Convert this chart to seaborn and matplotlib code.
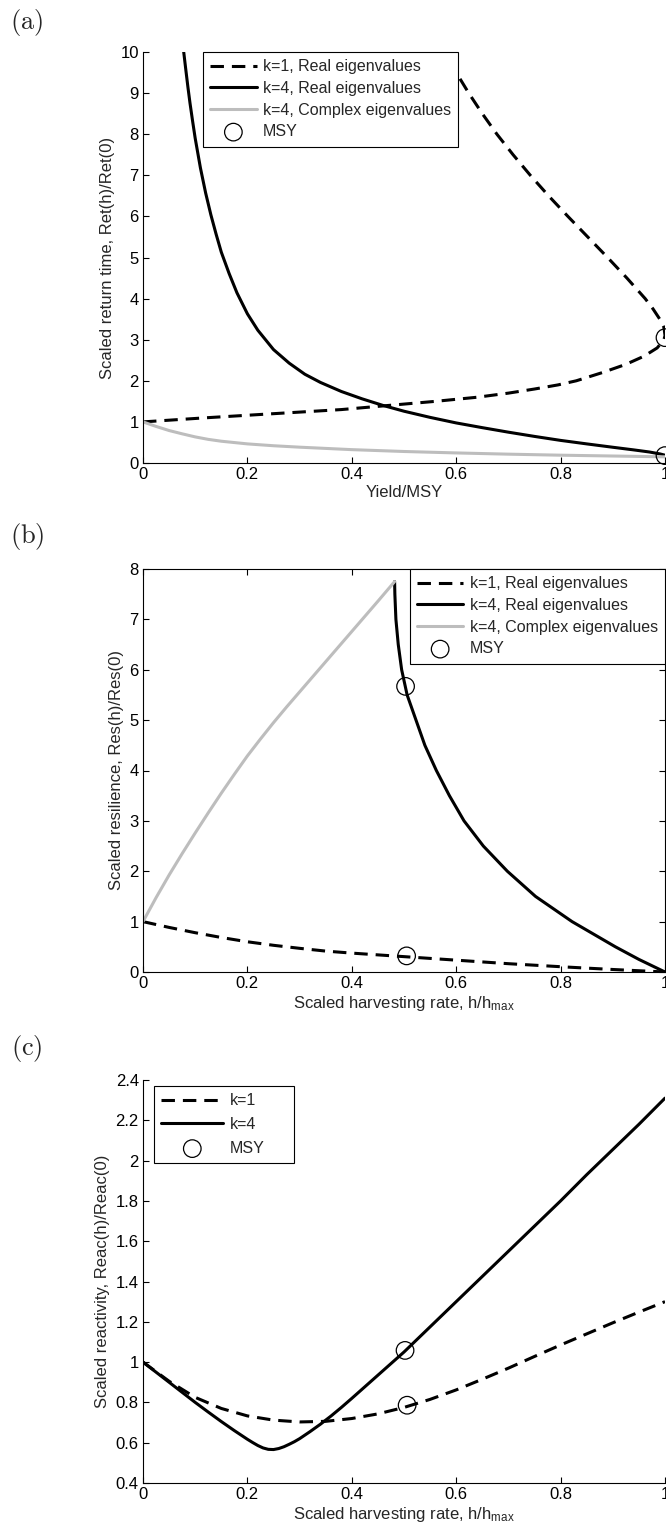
import numpy as np
import pandas as pd
import matplotlib
matplotlib.use("Agg")
import matplotlib.pyplot as plt
from matplotlib.ticker import FuncFormatter, MultipleLocator
import seaborn as sns

# ---------------- data ----------------
# Panel (a): scaled return time vs Yield/MSY
a_k1_y = [1.0, 1.1, 1.2, 1.3, 1.4, 1.5, 1.6, 1.7, 1.8, 1.9, 2.0, 2.2, 2.4, 2.6, 2.8, 3.0, 3.1,
          3.3, 3.5, 3.75, 4.0, 4.5, 5.0, 5.5, 6.0, 6.5, 7.0, 7.5, 8.0, 8.5, 9.0, 9.5, 10.0]
a_k1_x = [0.0, 0.12, 0.25, 0.38, 0.47, 0.56, 0.64, 0.70, 0.75, 0.795, 0.83, 0.88, 0.925, 0.96,
          0.985, 0.998, 1.0, 0.998, 0.99, 0.977, 0.962, 0.927, 0.89, 0.852, 0.814, 0.777, 0.742,
          0.709, 0.678, 0.65, 0.624, 0.60, 0.577]
a_k4r_x = [0.078, 0.082, 0.086, 0.09, 0.095, 0.10, 0.11, 0.12, 0.13, 0.14, 0.15, 0.165, 0.18,
           0.2, 0.22, 0.25, 0.28, 0.31, 0.34, 0.38, 0.42, 0.46, 0.5, 0.55, 0.6, 0.65, 0.7,
           0.75, 0.8, 0.85, 0.9, 0.94, 0.97, 0.99, 1.0]
a_k4r_y = [10.0, 9.57, 9.15, 8.76, 8.32, 7.9, 7.18, 6.57, 6.04, 5.57, 5.13, 4.61, 4.14,
           3.63, 3.23, 2.76, 2.43, 2.16, 1.96, 1.74, 1.56, 1.40, 1.26, 1.11, 0.975, 0.86, 0.75,
           0.647, 0.55, 0.465, 0.383, 0.319, 0.268, 0.222, 0.19]
a_k4c_x = [0.0, 0.025, 0.05, 0.075, 0.1, 0.125, 0.15, 0.2, 0.25, 0.3, 0.35, 0.4, 0.5, 0.6,
           0.7, 0.8, 0.9, 1.0]
a_k4c_y = [1.0, 0.89, 0.79, 0.71, 0.635, 0.575, 0.53, 0.465, 0.42, 0.385, 0.355, 0.325, 0.28,
           0.245, 0.215, 0.19, 0.17, 0.15]
a_msy_x = [1.0, 1.0]
a_msy_y = [3.05, 0.18]

# Panel (b): scaled resilience vs scaled harvesting rate
b_k1_x = [0.0, 0.05, 0.1, 0.15, 0.2, 0.25, 0.3, 0.35, 0.4, 0.45, 0.5, 0.55, 0.6, 0.65, 0.7,
          0.75, 0.8, 0.85, 0.9, 0.95, 1.0]
b_k1_y = [1.0, 0.885, 0.78, 0.685, 0.6, 0.53, 0.47, 0.415, 0.375, 0.34, 0.305, 0.27, 0.235,
          0.2, 0.165, 0.135, 0.105, 0.077, 0.05, 0.025, 0.0]
b_k4r_y = [7.75, 7.5, 7.0, 6.5, 6.0, 5.5, 5.0, 4.5, 4.0, 3.5, 3.0, 2.5, 2.0, 1.5, 1.0, 0.5,
           0.25, 0.0]
b_k4r_x = [0.482, 0.4825, 0.4845, 0.489, 0.4955, 0.506, 0.523, 0.54, 0.562, 0.587, 0.615,
           0.652, 0.698, 0.752, 0.822, 0.905, 0.95, 1.0]
b_k4c_x = [0.0, 0.025, 0.05, 0.075, 0.1, 0.125, 0.15, 0.175, 0.2, 0.225, 0.25, 0.275, 0.3,
           0.325, 0.35, 0.375, 0.4, 0.425, 0.45, 0.482]
b_k4c_y = [1.0, 1.475, 1.925, 2.35, 2.76, 3.16, 3.55, 3.925, 4.29, 4.625, 4.95, 5.26, 5.56,
           5.86, 6.16, 6.46, 6.76, 7.06, 7.36, 7.75]
b_msy_x = [0.503, 0.505]
b_msy_y = [5.67, 0.32]

# Panel (c): scaled reactivity vs scaled harvesting rate
c_k1_x = [0.0, 0.05, 0.1, 0.15, 0.2, 0.25, 0.3, 0.35, 0.4, 0.45, 0.5, 0.55, 0.6, 0.65, 0.7,
          0.75, 0.8, 0.85, 0.9, 0.95, 1.0]
c_k1_y = [1.0, 0.905, 0.825, 0.77, 0.733, 0.712, 0.703, 0.706, 0.72, 0.743, 0.775, 0.815,
          0.862, 0.915, 0.97, 1.028, 1.085, 1.14, 1.195, 1.248, 1.30]
c_k4_x = [0.0, 0.025, 0.05, 0.075, 0.1, 0.125, 0.15, 0.175, 0.2, 0.21, 0.22, 0.23, 0.24, 0.25,
          0.26, 0.27, 0.28, 0.29, 0.3, 0.32, 0.34, 0.36, 0.38, 0.4, 0.45, 0.5, 0.55, 0.6,
          0.65, 0.7, 0.75, 0.8, 0.85, 0.9, 0.95, 1.0]
c_k4_y = [1.0, 0.95, 0.9, 0.85, 0.8, 0.752, 0.705, 0.66, 0.617, 0.601, 0.586, 0.574, 0.567,
          0.566, 0.571, 0.58, 0.592, 0.605, 0.62, 0.655, 0.692, 0.732, 0.775, 0.82, 0.935,
          1.05, 1.175, 1.30, 1.425, 1.55, 1.675, 1.80, 1.93, 2.055, 2.18, 2.31]
c_msy_x = [0.502, 0.506]
c_msy_y = [1.058, 0.786]

panel_labels = ["(a)", "(b)", "(c)"]

# ---------------- style ----------------
sns.set_style("white")
plt.rcParams["font.family"] = ["Liberation Sans", "DejaVu Sans"]
plt.rcParams["mathtext.default"] = "regular"
plt.rcParams["font.size"] = 12

W, H = 666, 1532
fig = plt.figure(figsize=(W / 100, H / 100), dpi=100)
fig.patch.set_facecolor("white")


def add_axes_px(left, right, top, bottom):
    return fig.add_axes([left / W, 1 - bottom / H, (right - left) / W, (bottom - top) / H])


ax_a = add_axes_px(143, 665, 52, 463)
ax_b = add_axes_px(143, 665, 569, 972)
ax_c = add_axes_px(143, 665, 1080, 1483)

GRAY = "#bdbdbd"
LW = 2.2
DASH = (0, (4.4, 2.6))
FS = 12
fmt = FuncFormatter(lambda v, p: f"{v:g}")


def draw_line(ax, x, y, label, color="black", ls="-"):
    df = pd.DataFrame({"x": x, "y": y})
    sns.lineplot(data=df, x="x", y="y", ax=ax, sort=False, estimator=None,
                 color=color, linewidth=LW, linestyle=ls, label=label)


def draw_msy(ax, x, y):
    df = pd.DataFrame({"x": x, "y": y})
    sns.scatterplot(data=df, x="x", y="y", ax=ax, marker="o", s=160,
                    facecolor="none", edgecolor="black", linewidth=0.9,
                    label="MSY", zorder=5, clip_on=False)


def style_axes(ax, box):
    for side in ["left", "bottom", "top", "right"]:
        ax.spines[side].set_color("black")
        ax.spines[side].set_linewidth(0.8)
    ax.spines["top"].set_visible(box)
    ax.spines["right"].set_visible(box)
    ax.tick_params(direction="in", length=4, width=0.8, colors="black",
                   labelsize=FS, top=box, right=box, left=True, bottom=True, pad=3)
    ax.xaxis.set_major_formatter(fmt)
    ax.yaxis.set_major_formatter(fmt)
    ax.set_xlim(0, 1)
    ax.xaxis.set_major_locator(MultipleLocator(0.2))


# Panel (a)
draw_line(ax_a, a_k1_x, a_k1_y, "k=1, Real eigenvalues", ls=DASH)
draw_line(ax_a, a_k4r_x, a_k4r_y, "k=4, Real eigenvalues")
draw_line(ax_a, a_k4c_x, a_k4c_y, "k=4, Complex eigenvalues", color=GRAY)
draw_msy(ax_a, a_msy_x, a_msy_y)
ax_a.set_ylim(0, 10)
ax_a.yaxis.set_major_locator(MultipleLocator(1))
style_axes(ax_a, box=False)
ax_a.set_xlabel("Yield/MSY", fontsize=FS, labelpad=2)
ax_a.set_ylabel("Scaled return time, Ret(h)/Ret(0)", fontsize=FS)

# Panel (b)
draw_line(ax_b, b_k1_x, b_k1_y, "k=1, Real eigenvalues", ls=DASH)
draw_line(ax_b, b_k4r_x, b_k4r_y, "k=4, Real eigenvalues")
draw_line(ax_b, b_k4c_x, b_k4c_y, "k=4, Complex eigenvalues", color=GRAY)
draw_msy(ax_b, b_msy_x, b_msy_y)
ax_b.set_ylim(0, 8)
ax_b.yaxis.set_major_locator(MultipleLocator(1))
style_axes(ax_b, box=True)
ax_b.set_xlabel("Scaled harvesting rate, h/h$_{max}$", fontsize=FS, labelpad=2)
ax_b.set_ylabel("Scaled resilience, Res(h)/Res(0)", fontsize=FS)

# Panel (c)
draw_line(ax_c, c_k1_x, c_k1_y, "k=1", ls=DASH)
draw_line(ax_c, c_k4_x, c_k4_y, "k=4")
draw_msy(ax_c, c_msy_x, c_msy_y)
ax_c.set_ylim(0.4, 2.4)
ax_c.yaxis.set_major_locator(MultipleLocator(0.2))
style_axes(ax_c, box=False)
ax_c.set_xlabel("Scaled harvesting rate, h/h$_{max}$", fontsize=FS, labelpad=2)
ax_c.set_ylabel("Scaled reactivity, Reac(h)/Reac(0)", fontsize=FS)

leg_kw = dict(frameon=True, fancybox=False, framealpha=1, edgecolor="black",
              fontsize=11.5, handletextpad=0.4,
              borderpad=0.45, borderaxespad=0, scatterpoints=1)
for ax, loc, anchor, hl, ls, mode in [
        (ax_a, "upper left", (0.115, 1.0), 2.9, 0.42, None),
        (ax_b, "upper right", (1.0, 1.0), 2.9, 0.42, None),
        (ax_c, "upper left", (0.021, 0.985, 140 / 522, 0.0), 3.9, 0.55, "expand")]:
    leg = ax.legend(loc=loc, bbox_to_anchor=anchor, handlelength=hl,
                    labelspacing=ls, mode=mode, **leg_kw)
    leg.get_frame().set_linewidth(0.8)
    leg.set_zorder(10)

# Panel letters
for lab, ypx in zip(panel_labels, [22, 537, 1048]):
    fig.text(27 / W, 1 - ypx / H, r"$\mathrm{" + lab + "}$", math_fontfamily="cm",
             fontsize=19, ha="center", va="center")

fig.savefig("out.png", dpi=100, facecolor="white")
